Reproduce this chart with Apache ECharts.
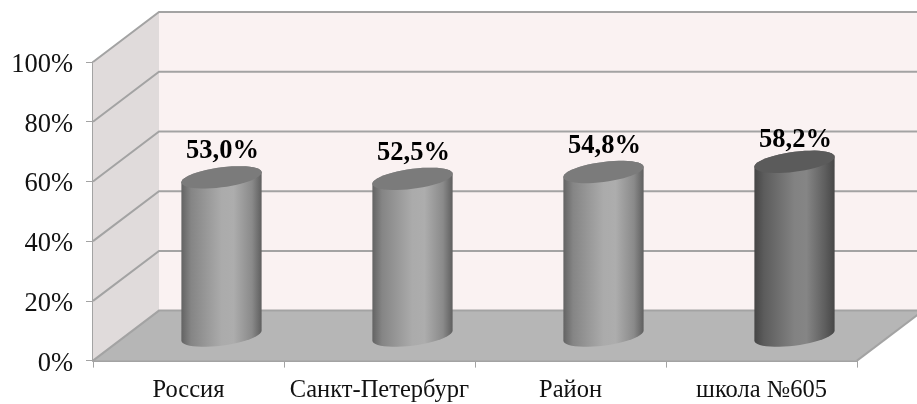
<!DOCTYPE html>
<html><head><meta charset="utf-8">
<style>html,body{margin:0;padding:0;background:#fff}#c{width:917px;height:404px;filter:blur(0.45px)}</style>
<script src="https://cdn.jsdelivr.net/npm/echarts@6/dist/echarts.min.js"></script>
</head><body><div id="c"></div>
<script>
const categories = ['Россия', 'Санкт-Петербург', 'Район', 'школа №605'];
const values = [53.0, 52.5, 54.8, 58.2];
const yTicks = [0, 20, 40, 60, 80, 100];
const highlighted = [false, false, false, true];

const depthX = 66, depthY = -50;
const barRatio = 0.42;

const chart = echarts.init(document.getElementById('c'), null, {renderer: 'canvas'});

function poly(points, style, extra) {
  return Object.assign({type: 'polygon', shape: {points}, style}, extra || {});
}
function renderWalls(params, api) {
  const band = api.size([1, 0])[0];
  const x0 = api.coord([0, 0])[0] - band / 2;
  const x1 = api.coord([categories.length - 1, 0])[0] + band / 2;
  const P = (x, v, d) => [x + d * depthX, api.coord([0, v])[1] + d * depthY];
  const lineCol = '#a3a3a3';
  const children = [
    poly([P(x0,0,0), P(x0,100,0), P(x0,100,1), P(x0,0,1)], {fill: '#e0dbdb'}),
    poly([P(x0,0,1), P(x0,100,1), P(x1,100,1), P(x1,0,1)], {fill: '#faf2f2'}),
    poly([P(x0,0,0), P(x0,0,1), P(x1,0,1), P(x1,0,0)], {fill: '#b6b6b6'})
  ];
  yTicks.forEach(t => {
    children.push({type: 'polyline', shape: {points: [P(x0,t,0), P(x0,t,1), P(x1,t,1)]},
      style: {stroke: lineCol, lineWidth: 2, fill: null}});
  });
  const a = P(x1,0,0), b = P(x1,0,1);
  children.push({type: 'line', shape: {x1: a[0], y1: a[1], x2: b[0], y2: b[1]},
    style: {stroke: lineCol, lineWidth: 2}});
  return {type: 'group', children};
}
function ellipsePts(cx, cy, a, from, to, n) {
  const pts = [];
  for (let i = 0; i <= n; i++) {
    const t = from + (to - from) * i / n;
    pts.push([cx + a * Math.cos(t), cy - a * 0.125 * Math.cos(t) - a * 0.25 * Math.sin(t)]);
  }
  return pts;
}
function renderCyl(params, api) {
  const idx = api.value(0), val = api.value(1);
  const top = api.coord([idx, val]), bot = api.coord([idx, 0]);
  const a = api.size([1, 0])[0] * barRatio / 2;
  const cx = top[0] + depthX / 2;
  const ty = top[1] + depthY / 2, by = bot[1] + depthY / 2;
  const dark = highlighted[idx];
  const grad = dark
    ? [[0,'#454545'],[0.12,'#5c5c5c'],[0.5,'#828282'],[0.65,'#858585'],[0.88,'#5e5e5e'],[1,'#474747']]
    : [[0,'#636363'],[0.12,'#858585'],[0.5,'#ababab'],[0.65,'#adadad'],[0.88,'#8a8a8a'],[1,'#5f5f5f']];
  const fill = new echarts.graphic.LinearGradient(0, 0, 1, 0, grad.map(g => ({offset: g[0], color: g[1]})));
  const bodyPts = [];
  ellipsePts(cx, ty, a, 0, Math.PI, 24).forEach(p => bodyPts.push(p));
  ellipsePts(cx, by, a, Math.PI, 2 * Math.PI, 24).forEach(p => bodyPts.push(p));
  return {type: 'group', children: [
    poly(bodyPts, {fill}),
    poly(ellipsePts(cx, ty, a, 0, 2 * Math.PI, 48), {fill: dark ? '#5b5b5b' : '#7b7b7b'}),
    {type: 'text', style: {
      text: val.toFixed(1).replace('.', ',') + '%',
      x: cx + 1, y: ty - (dark ? 22 : 26), align: 'center', verticalAlign: 'middle',
      font: 'bold 26.5px "Liberation Serif", serif', fill: '#000'
    }}
  ]};
}

chart.setOption({
  animation: false,
  backgroundColor: '#fff',
  grid: {left: 93, right: 60, top: 62, bottom: 43.4},
  xAxis: {
    type: 'category', data: categories, boundaryGap: true,
    axisLine: {show: true, lineStyle: {color: '#a3a3a3', width: 2}},
    axisTick: {show: true, alignWithLabel: false, length: 7, lineStyle: {color: '#a3a3a3', width: 1}},
    axisLabel: {color: '#111', fontFamily: '"Liberation Serif", serif', fontSize: 24.5, margin: 17, interval: 0},
    splitLine: {show: false}
  },
  yAxis: {
    type: 'value', min: 0, max: 100, interval: 20,
    axisLine: {show: true, lineStyle: {color: '#a3a3a3', width: 2}},
    axisTick: {show: true, length: 7, lineStyle: {color: '#a3a3a3', width: 1}},
    axisLabel: {
      margin: 20, formatter: '{n|{value}%}',
      rich: {n: {color: '#111', fontFamily: '"Liberation Serif", serif', fontSize: 26.5, padding: [6, 0, 0, 0]}}
    },
    splitLine: {show: false}
  },
  series: [
    {type: 'custom', z: 1, silent: true, clip: false, renderItem: renderWalls, data: [[0, 0]], encode: {x: 0, y: 1}},
    {type: 'custom', z: 5, silent: true, clip: false, renderItem: renderCyl,
     data: values.map((v, i) => [i, v]), encode: {x: 0, y: 1}}
  ]
});
</script></body></html>
